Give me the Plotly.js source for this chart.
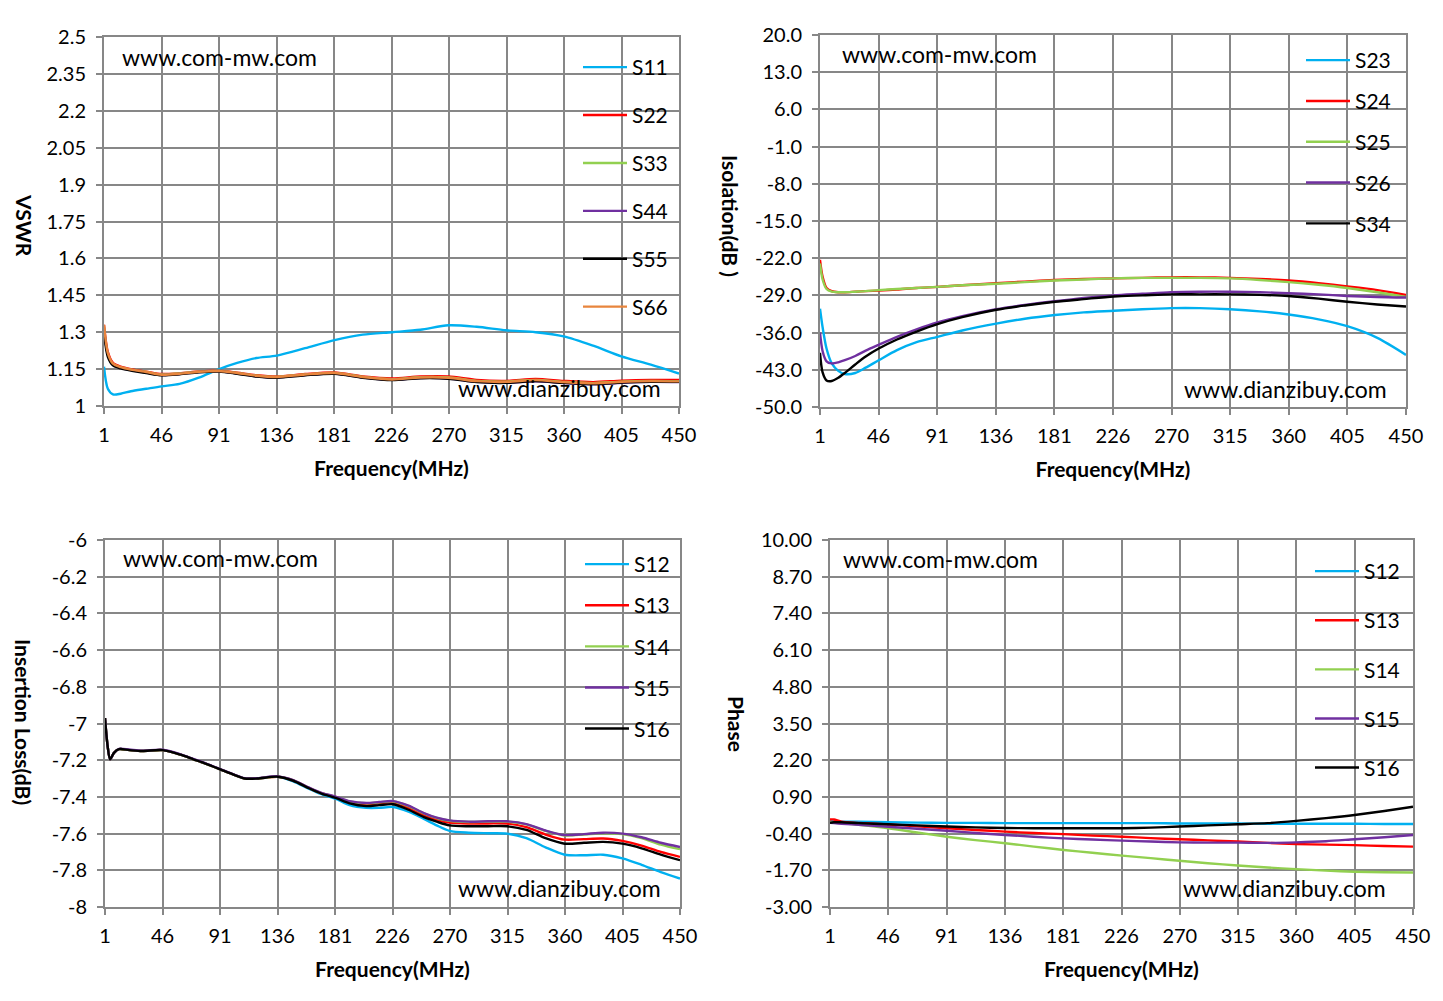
<!DOCTYPE html>
<html>
<head>
<meta charset="utf-8">
<script src="https://cdn.plot.ly/plotly-3.0.1.min.js"></script>
<style>
  html, body { margin: 0; padding: 0; background: #fff; }
  #chart { width: 1443px; height: 1001px; }
</style>
</head>
<body>
<div id="chart"></div>
<script>
// x tick labels, shared by all four panels
var xTickText = ["1", "46", "91", "136", "181", "226", "270", "315", "360", "405", "450"];

// ---- VSWR ----
var vswrFreq = [1, 4, 8, 14, 22, 34, 46, 60, 75, 91, 105, 120, 136, 158, 181, 203, 226, 248, 270, 292, 315, 338, 360, 383, 405, 428, 450];
var s11 = [1.16, 1.07, 1.047, 1.05, 1.06, 1.07, 1.08, 1.09, 1.115, 1.15, 1.175, 1.195, 1.205, 1.235, 1.268, 1.29, 1.30, 1.31, 1.328, 1.322, 1.308, 1.30, 1.283, 1.245, 1.202, 1.168, 1.132];
var s22 = [1.33, 1.22, 1.175, 1.16, 1.15, 1.14, 1.13, 1.133, 1.14, 1.143, 1.135, 1.125, 1.12, 1.13, 1.136, 1.12, 1.112, 1.12, 1.12, 1.106, 1.102, 1.11, 1.102, 1.097, 1.103, 1.106, 1.106];
var s33 = [1.32, 1.21, 1.17, 1.157, 1.148, 1.138, 1.128, 1.132, 1.139, 1.142, 1.134, 1.123, 1.118, 1.128, 1.134, 1.118, 1.109, 1.117, 1.116, 1.102, 1.099, 1.106, 1.098, 1.093, 1.099, 1.102, 1.101];
var s44 = [1.31, 1.21, 1.168, 1.155, 1.146, 1.136, 1.126, 1.13, 1.138, 1.141, 1.132, 1.121, 1.116, 1.126, 1.132, 1.116, 1.106, 1.114, 1.112, 1.098, 1.094, 1.1, 1.093, 1.088, 1.094, 1.098, 1.097];
var s55 = [1.30, 1.2, 1.165, 1.153, 1.144, 1.134, 1.125, 1.129, 1.137, 1.14, 1.131, 1.12, 1.115, 1.125, 1.131, 1.115, 1.105, 1.113, 1.111, 1.097, 1.094, 1.101, 1.094, 1.089, 1.095, 1.098, 1.098];
var s66 = [1.33, 1.215, 1.172, 1.158, 1.148, 1.138, 1.127, 1.131, 1.139, 1.142, 1.134, 1.123, 1.118, 1.128, 1.134, 1.118, 1.108, 1.116, 1.115, 1.101, 1.098, 1.105, 1.097, 1.092, 1.098, 1.101, 1.1];
var vswrTicks = ["1", "1.15", "1.3", "1.45", "1.6", "1.75", "1.9", "2.05", "2.2", "2.35", "2.5"];

// ---- Isolation ----
var isoFreq = [1, 3, 6, 10, 15, 20, 28, 36, 46, 60, 75, 91, 110, 136, 158, 181, 203, 226, 248, 270, 292, 315, 338, 360, 383, 405, 428, 450];
var s23 = [-31.5, -35, -39, -41.8, -43.2, -43.8, -43.6, -42.6, -41.2, -39.3, -37.8, -36.8, -35.6, -34.3, -33.4, -32.7, -32.2, -31.9, -31.6, -31.4, -31.4, -31.6, -32.0, -32.6, -33.5, -34.8, -37.0, -40.2];
var s24 = [-22.3, -25.5, -27.6, -28.2, -28.4, -28.4, -28.3, -28.2, -28.1, -27.9, -27.6, -27.4, -27.1, -26.7, -26.4, -26.1, -25.9, -25.8, -25.7, -25.6, -25.6, -25.7, -25.9, -26.2, -26.7, -27.3, -28.0, -28.9];
var s25 = [-23.0, -26.0, -27.8, -28.3, -28.4, -28.4, -28.3, -28.2, -28.0, -27.8, -27.6, -27.4, -27.1, -26.8, -26.5, -26.2, -26.0, -25.8, -25.7, -25.7, -25.7, -25.8, -26.1, -26.5, -27.0, -27.6, -28.4, -29.3];
var s26 = [-36.0, -39.5, -41.4, -41.8, -41.6, -41.2, -40.4, -39.4, -38.3, -36.8, -35.4, -34.1, -32.9, -31.6, -30.8, -30.1, -29.5, -29.0, -28.7, -28.4, -28.3, -28.3, -28.4, -28.6, -28.8, -29.1, -29.3, -29.4];
var s34 = [-39.8, -43.5, -45.0, -45.1, -44.5, -43.6, -42.0, -40.5, -39.0, -37.3, -35.8, -34.4, -33.1, -31.7, -30.9, -30.2, -29.7, -29.2, -29.0, -28.8, -28.8, -28.8, -28.9, -29.1, -29.6, -30.2, -30.7, -31.1];
var isoTicks = ["-50.0", "-43.0", "-36.0", "-29.0", "-22.0", "-15.0", "-8.0", "-1.0", "6.0", "13.0", "20.0"];

// ---- Insertion loss ----
var ilFreq = [1, 3, 5, 8, 12, 20, 30, 46, 60, 70, 80, 91, 100, 110, 120, 136, 148, 160, 170, 181, 192, 205, 215, 226, 238, 250, 260, 270, 285, 300, 315, 330, 345, 360, 375, 390, 405, 420, 435, 450];
var il12 = [-6.97, -7.12, -7.195, -7.16, -7.14, -7.145, -7.15, -7.145, -7.17, -7.195, -7.22, -7.25, -7.275, -7.30, -7.30, -7.29, -7.315, -7.355, -7.385, -7.41, -7.445, -7.46, -7.46, -7.455, -7.48, -7.52, -7.555, -7.585, -7.595, -7.598, -7.60, -7.625, -7.675, -7.715, -7.718, -7.715, -7.735, -7.77, -7.81, -7.845];
var il13 = [-6.97, -7.12, -7.195, -7.16, -7.14, -7.145, -7.15, -7.145, -7.17, -7.195, -7.22, -7.25, -7.275, -7.30, -7.30, -7.29, -7.31, -7.35, -7.38, -7.40, -7.43, -7.44, -7.435, -7.43, -7.46, -7.50, -7.525, -7.54, -7.545, -7.545, -7.545, -7.565, -7.605, -7.633, -7.63, -7.627, -7.64, -7.665, -7.70, -7.727];
var il14 = [-6.97, -7.12, -7.195, -7.16, -7.14, -7.145, -7.15, -7.145, -7.17, -7.195, -7.22, -7.25, -7.275, -7.30, -7.30, -7.29, -7.31, -7.35, -7.38, -7.40, -7.425, -7.435, -7.43, -7.425, -7.45, -7.49, -7.515, -7.53, -7.537, -7.535, -7.535, -7.55, -7.585, -7.61, -7.605, -7.598, -7.603, -7.625, -7.66, -7.685];
var il15 = [-6.97, -7.12, -7.195, -7.16, -7.138, -7.142, -7.148, -7.143, -7.168, -7.193, -7.218, -7.248, -7.273, -7.298, -7.298, -7.288, -7.308, -7.348, -7.378, -7.398, -7.423, -7.433, -7.428, -7.423, -7.448, -7.488, -7.513, -7.528, -7.535, -7.533, -7.533, -7.548, -7.583, -7.608, -7.603, -7.595, -7.60, -7.62, -7.65, -7.673];
var il16 = [-6.97, -7.12, -7.195, -7.16, -7.14, -7.145, -7.15, -7.145, -7.17, -7.195, -7.22, -7.25, -7.275, -7.30, -7.30, -7.29, -7.312, -7.352, -7.382, -7.405, -7.435, -7.45, -7.445, -7.44, -7.47, -7.51, -7.535, -7.555, -7.56, -7.56, -7.56, -7.58, -7.625, -7.655, -7.65, -7.645, -7.655, -7.68, -7.715, -7.745];
var ilTicks = ["-8", "-7.8", "-7.6", "-7.4", "-7.2", "-7", "-6.8", "-6.6", "-6.4", "-6.2", "-6"];

// ---- Phase ----
var phFreq = [1, 4, 10, 23, 46, 68, 91, 113, 136, 158, 181, 203, 226, 248, 270, 292, 315, 338, 360, 383, 405, 428, 450];
var ph12 = [0.05, 0.03, 0.02, 0.02, 0.0, -0.01, -0.02, -0.02, -0.03, -0.03, -0.03, -0.03, -0.03, -0.03, -0.04, -0.04, -0.04, -0.05, -0.05, -0.05, -0.05, -0.06, -0.06];
var ph13 = [0.1, 0.1, 0.02, -0.02, -0.08, -0.14, -0.21, -0.27, -0.33, -0.38, -0.42, -0.47, -0.51, -0.56, -0.60, -0.64, -0.68, -0.73, -0.77, -0.79, -0.81, -0.84, -0.86];
var ph14 = [0.0, -0.01, -0.03, -0.09, -0.21, -0.36, -0.51, -0.63, -0.74, -0.86, -0.98, -1.08, -1.18, -1.27, -1.36, -1.45, -1.53, -1.60, -1.66, -1.71, -1.75, -1.77, -1.78];
var ph15 = [-0.02, -0.03, -0.05, -0.09, -0.16, -0.23, -0.30, -0.38, -0.45, -0.51, -0.57, -0.61, -0.65, -0.68, -0.71, -0.72, -0.72, -0.73, -0.71, -0.67, -0.60, -0.53, -0.45];
var ph16 = [-0.02, 0.0, 0.0, -0.03, -0.07, -0.11, -0.15, -0.18, -0.20, -0.21, -0.21, -0.21, -0.21, -0.19, -0.15, -0.11, -0.07, -0.03, 0.05, 0.15, 0.26, 0.40, 0.55];
var phTicks = ["-3.00", "-1.70", "-0.40", "0.90", "2.20", "3.50", "4.80", "6.10", "7.40", "8.70", "10.00"];

var BLUE = "#00B0F0", RED = "#FF0000", GREEN = "#92D050", PURPLE = "#7030A0", BLACK = "#000000", ORANGE = "#E8853D";
var FONT = "Lato, 'Open Sans', sans-serif";
var GRID = "#878787";
var W = 1443, H = 1001;

function px(x) { return x / W; }
function py(y) { return 1 - y / H; }

function line(name, x, y, color, axisN, legendId) {
  var sfx = axisN === 1 ? "" : String(axisN);
  return {
    type: "scatter", mode: "lines", name: name, x: x, y: y,
    xaxis: "x" + sfx, yaxis: "y" + sfx,
    legend: legendId, legendgroup: legendId + name,
    line: { color: color, width: 2.4, shape: "spline", smoothing: 0.8 }
  };
}

var traces = [
  line("S11", vswrFreq, s11, BLUE, 1, "legend"),
  line("S22", vswrFreq, s22, RED, 1, "legend"),
  line("S33", vswrFreq, s33, GREEN, 1, "legend"),
  line("S44", vswrFreq, s44, PURPLE, 1, "legend"),
  line("S55", vswrFreq, s55, BLACK, 1, "legend"),
  line("S66", vswrFreq, s66, ORANGE, 1, "legend"),

  line("S23", isoFreq, s23, BLUE, 2, "legend2"),
  line("S24", isoFreq, s24, RED, 2, "legend2"),
  line("S25", isoFreq, s25, GREEN, 2, "legend2"),
  line("S26", isoFreq, s26, PURPLE, 2, "legend2"),
  line("S34", isoFreq, s34, BLACK, 2, "legend2"),

  line("S12", ilFreq, il12, BLUE, 3, "legend3"),
  line("S13", ilFreq, il13, RED, 3, "legend3"),
  line("S14", ilFreq, il14, GREEN, 3, "legend3"),
  line("S15", ilFreq, il15, PURPLE, 3, "legend3"),
  line("S16", ilFreq, il16, BLACK, 3, "legend3"),

  line("S12", phFreq, ph12, BLUE, 4, "legend4"),
  line("S13", phFreq, ph13, RED, 4, "legend4"),
  line("S14", phFreq, ph14, GREEN, 4, "legend4"),
  line("S15", phFreq, ph15, PURPLE, 4, "legend4"),
  line("S16", phFreq, ph16, BLACK, 4, "legend4")
];

// evenly spaced category-style ticks across 1..450
var xTickVals = xTickText.map(function(t, i) { return 1 + i * 449 / (xTickText.length - 1); });

function xAxis(domain, anchor) {
  return {
    domain: domain, anchor: anchor, range: [1, 450],
    tickvals: xTickVals, ticktext: xTickText,
    showgrid: true, gridcolor: GRID, gridwidth: 2,
    showline: true, linecolor: GRID, linewidth: 2, mirror: true,
    ticks: "outside", ticklen: 6, tickwidth: 2, tickcolor: GRID, ticklabelstandoff: 4,
    zeroline: false, tickfont: { family: FONT, size: 20, color: "#000" },
    title: { text: "<b>Frequency(MHz)</b>", standoff: 16, font: { family: FONT, size: 21, color: "#000" } }
  };
}

function yAxis(domain, anchor, labels) {
  var vals = labels.map(Number);
  return {
    domain: domain, anchor: anchor, range: [vals[0], vals[vals.length - 1]],
    tickvals: vals, ticktext: labels,
    showgrid: true, gridcolor: GRID, gridwidth: 2,
    showline: true, linecolor: GRID, linewidth: 2, mirror: true,
    ticks: "outside", ticklen: 6, tickwidth: 2, tickcolor: GRID, ticklabelstandoff: 6,
    zeroline: false, tickfont: { family: FONT, size: 20, color: "#000" }
  };
}

function legendAt(x, y, gap) {
  return {
    x: px(x), y: py(y), xanchor: "left", yanchor: "top",
    bgcolor: "rgba(0,0,0,0)", borderwidth: 0,
    traceorder: "grouped", tracegroupgap: gap, itemwidth: 44,
    font: { family: FONT, size: 21, color: "#000" }
  };
}

function whiteBox(x0, y0, x1, y1) {
  return { type: "rect", xref: "paper", yref: "paper", layer: "between",
    x0: px(x0), x1: px(x1), y0: py(y1), y1: py(y0),
    fillcolor: "#fff", line: { width: 0 } };
}

function note(text, x, y, anchor, angle, bold) {
  return { text: bold ? "<b>" + text + "</b>" : text, xref: "paper", yref: "paper",
    x: px(x), y: py(y), xanchor: anchor, yanchor: "middle", textangle: angle || 0,
    showarrow: false, font: { family: FONT, size: bold ? 21 : 23, color: "#000" } };
}

var layout = {
  width: W, height: H,
  margin: { l: 0, r: 0, t: 0, b: 0 },
  paper_bgcolor: "#fff", plot_bgcolor: "#fff",
  font: { family: FONT, color: "#000" },
  showlegend: true,
  xaxis: xAxis([px(104), px(679)], "y"),
  yaxis: yAxis([py(406), py(37)], "x", vswrTicks),
  xaxis2: xAxis([px(820), px(1406)], "y2"),
  yaxis2: yAxis([py(407), py(35)], "x2", isoTicks),
  xaxis3: xAxis([px(105), px(680)], "y3"),
  yaxis3: yAxis([py(907), py(540)], "x3", ilTicks),
  xaxis4: xAxis([px(830), px(1413)], "y4"),
  yaxis4: yAxis([py(907), py(540)], "x4", phTicks),
  legend: legendAt(578, 47, 17.6),
  legend2: legendAt(1301, 40, 10.5),
  legend3: legendAt(580, 544, 10.8),
  legend4: legendAt(1310, 551, 18.8),
  shapes: [
    whiteBox(574, 45, 676, 330),
    whiteBox(1298, 40, 1401, 243),
    whiteBox(577, 546, 676, 750),
    whiteBox(1305, 548, 1409, 794)
  ],
  annotations: [
    note("www.com-mw.com", 120, 57, "left"),
    note("www.com-mw.com", 840, 54, "left"),
    note("www.com-mw.com", 121, 558, "left"),
    note("www.com-mw.com", 841, 559, "left"),
    note("www.dianzibuy.com", 663, 388, "right"),
    note("www.dianzibuy.com", 1389, 389, "right"),
    note("www.dianzibuy.com", 663, 888, "right"),
    note("www.dianzibuy.com", 1388, 888, "right"),
    note("VSWR", 25, 226, "center", 90, true),
    note("Isolation(dB )", 731, 216, "center", 90, true),
    note("Insertion Loss(dB)", 24, 722, "center", 90, true),
    note("Phase", 737, 724, "center", 90, true)
  ]
};

Plotly.newPlot("chart", traces, layout, { displayModeBar: false, responsive: false });
</script>
</body>
</html>
